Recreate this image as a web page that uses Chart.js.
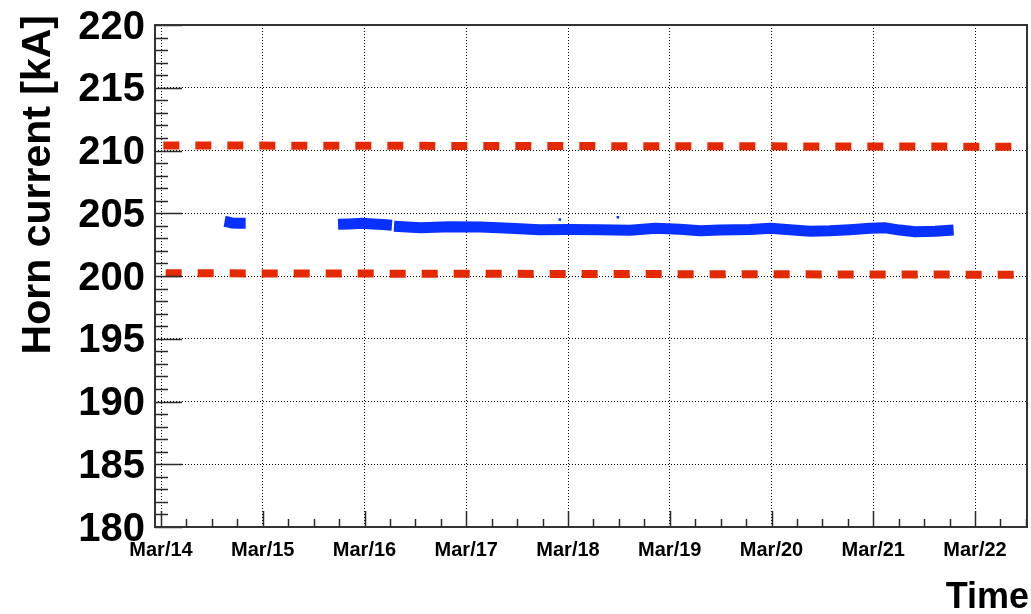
<!DOCTYPE html>
<html>
<head>
<meta charset="utf-8">
<title>Horn current</title>
<script src="https://cdn.jsdelivr.net/npm/chart.js@4.4.1/dist/chart.umd.min.js"></script>
<style>
  html, body { margin: 0; padding: 0; background: #fff; }
  canvas { display: block; }
</style>
</head>
<body>
<canvas id="chart" width="1031" height="614"></canvas>
<script>
// Time axis: days since Mar/14 00:00
const dayLabels = ['Mar/14', 'Mar/15', 'Mar/16', 'Mar/17', 'Mar/18', 'Mar/19', 'Mar/20', 'Mar/21', 'Mar/22'];
const dayTicks = [0, 1, 2, 3, 4, 5, 6, 7, 8];
const currentTicks = [180, 185, 190, 195, 200, 205, 210, 215, 220];

// Measured horn current [kA], three running periods
const run1Days = [0.625, 0.66, 0.70, 0.76, 0.832];
const run1Current = [204.35, 204.3, 204.22, 204.2, 204.2];

const run2Days = [1.74, 1.85, 1.98, 2.08, 2.18, 2.27];
const run2Current = [204.12, 204.15, 204.2, 204.15, 204.1, 204.05];

const run3Days = [2.29, 2.55, 2.84, 3.14, 3.43, 3.72, 4.02, 4.31, 4.61, 4.86, 5.10, 5.30, 5.49,
                  5.79, 5.99, 6.18, 6.38, 6.57, 6.77, 6.97, 7.12, 7.26, 7.41, 7.61, 7.79];
const run3Current = [203.97, 203.84, 203.92, 203.9, 203.8, 203.69, 203.7, 203.69, 203.64, 203.8, 203.72, 203.6, 203.66,
                     203.7, 203.8, 203.69, 203.57, 203.6, 203.69, 203.8, 203.84, 203.66, 203.53, 203.57, 203.66];

// Isolated readings away from the band
const strayDays = [3.92, 4.49];
const strayCurrent = [204.5, 204.68];

// Tolerance limits
const upperDays = [0.023, 8.51];
const upperCurrent = [210.4, 210.3];
const lowerDays = [0.046, 8.51];
const lowerCurrent = [200.22, 200.1];

const xMin = -0.059, xMax = 8.511;
const FONT = "'Liberation Sans', Arial, Helvetica, sans-serif";

function toPoints(days, values) {
  return days.map((d, i) => ({ x: d, y: values[i] }));
}

// runs joined with null gaps so the band breaks between periods
const bandPoints = [
  ...toPoints(run1Days, run1Current), { x: 1.2, y: null },
  ...toPoints(run2Days, run2Current), { x: 2.28, y: null },
  ...toPoints(run3Days, run3Current)
];

const RED = 'rgb(228,40,0)';
const BLUE = 'rgb(8,48,255)';

// Frame, inward tick marks and axis titles in ROOT style
const rootFrame = {
  id: 'rootFrame',
  afterDraw(chart) {
    const { ctx, chartArea: a, scales } = chart;
    const xs = scales.x, ys = scales.y;
    ctx.save();
    ctx.strokeStyle = '#2a2a2a';
    ctx.lineWidth = 1.5;
    ctx.beginPath();
    for (let k = Math.ceil(xs.min * 4); k <= Math.floor(xs.max * 4); k++) {
      const px = Math.round(xs.getPixelForValue(k / 4)) + 0.5;
      const len = k % 4 === 0 ? 16 : 8;
      ctx.moveTo(px, a.bottom);
      ctx.lineTo(px, a.bottom - len);
    }
    for (let v = Math.ceil(ys.min); v <= Math.floor(ys.max); v++) {
      const py = Math.round(ys.getPixelForValue(v)) + 0.5;
      const len = v % 5 === 0 ? 27 : 13;
      ctx.moveTo(a.left, py);
      ctx.lineTo(a.left + len, py);
    }
    ctx.stroke();

    ctx.strokeStyle = '#333';
    ctx.lineWidth = 2;
    ctx.strokeRect(a.left, a.top, a.right - a.left, a.bottom - a.top);

    ctx.fillStyle = '#000';
    ctx.font = 'bold 36px ' + FONT;
    ctx.textAlign = 'right';
    ctx.textBaseline = 'alphabetic';
    ctx.fillText('Time', 1029, 608);

    ctx.translate(50, 15);
    ctx.rotate(-Math.PI / 2);
    ctx.font = 'bold 41px ' + FONT;
    ctx.textAlign = 'right';
    ctx.fillText('Horn current [kA]', 0, 0);
    ctx.restore();
  }
};

new Chart(document.getElementById('chart'), {
  type: 'line',
  data: {
    datasets: [
      {
        data: toPoints(upperDays, upperCurrent),
        borderColor: RED, borderWidth: 8, borderDash: [16, 16],
        borderCapStyle: 'butt', pointRadius: 0, fill: false
      },
      {
        data: toPoints(lowerDays, lowerCurrent),
        borderColor: RED, borderWidth: 8, borderDash: [16, 16],
        borderCapStyle: 'butt', pointRadius: 0, fill: false
      },
      {
        data: bandPoints,
        borderColor: BLUE, borderWidth: 11, borderCapStyle: 'butt', borderJoinStyle: 'round',
        pointRadius: 0, spanGaps: false, fill: false, tension: 0
      },
      {
        type: 'scatter',
        data: toPoints(strayDays, strayCurrent),
        backgroundColor: BLUE, borderColor: BLUE, borderWidth: 0,
        pointStyle: 'rect', pointRadius: 1.8
      }
    ]
  },
  options: {
    responsive: false,
    animation: false,
    events: [],
    layout: { padding: { top: 25, right: 4, left: 0, bottom: 0 } },
    plugins: { legend: { display: false }, tooltip: { enabled: false } },
    scales: {
      x: {
        type: 'linear',
        min: xMin, max: xMax,
        afterBuildTicks(scale) { scale.ticks = dayTicks.map(v => ({ value: v })); },
        afterFit(scale) { scale.height = 87; },
        grid: { color: '#000', lineWidth: 1, drawTicks: false },
        border: { display: false, dash: [1, 2] },
        ticks: {
          autoSkip: false, maxRotation: 0, minRotation: 0, padding: 11,
          color: '#000',
          font: { family: FONT, size: 20, weight: 'bold', lineHeight: 1.2 },
          callback: (v, i) => dayLabels[i]
        }
      },
      y: {
        type: 'linear',
        min: 180, max: 220,
        afterBuildTicks(scale) { scale.ticks = currentTicks.map(v => ({ value: v })); },
        afterFit(scale) { scale.width = 155; scale.paddingTop = 0; scale.paddingBottom = 0; },
        grid: { color: '#000', lineWidth: 1, drawTicks: false },
        border: { display: false, dash: [1, 2] },
        ticks: {
          padding: 10, labelOffset: 2.5,
          color: '#000',
          font: { family: FONT, size: 40, weight: 'bold', lineHeight: 0.6 },
          callback: v => String(v)
        }
      }
    }
  },
  plugins: [rootFrame]
});
</script>
</body>
</html>
